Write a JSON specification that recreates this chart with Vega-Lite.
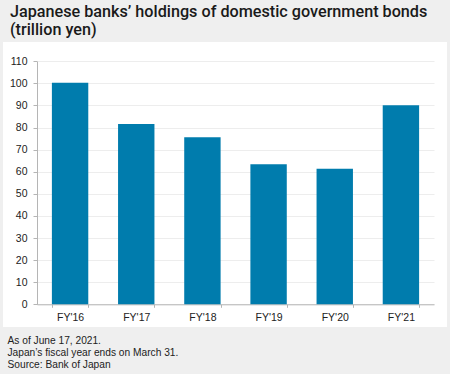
{
  "$schema": "https://vega.github.io/schema/vega-lite/v6.json",
  "width": 444,
  "height": 285,
  "autosize": {"type": "none"},
  "padding": {"left": 3, "top": 42, "right": 3, "bottom": 47},
  "background": "#efefef",
  "title": {
    "text": ["Japanese banks’ holdings of domestic government bonds", "(trillion yen)"],
    "anchor": "start",
    "frame": "group",
    "dx": 7,
    "offset": 4,
    "font": "Roboto",
    "fontSize": 16.2,
    "fontWeight": 500,
    "color": "#1a1a1a",
    "lineHeight": 18
  },
  "data": {
    "values": [
      {"year": "FY'16", "value": 100.3},
      {"year": "FY'17", "value": 81.6},
      {"year": "FY'18", "value": 75.6},
      {"year": "FY'19", "value": 63.4},
      {"year": "FY'20", "value": 61.4},
      {"year": "FY'21", "value": 90.1}
    ]
  },
  "mark": {"type": "bar", "color": "#007cad"},
  "encoding": {
    "x": {
      "field": "year",
      "type": "nominal",
      "sort": null,
      "scale": {"range": [34, 431], "paddingInner": 0.45, "paddingOuter": 0.225},
      "axis": {
        "orient": "bottom",
        "offset": -22.7,
        "tickBand": "extent",
        "tickSize": 3,
        "labelAngle": 0,
        "labelPadding": 5,
        "labelFont": "Liberation Sans",
        "labelFontSize": 10.5,
        "labelColor": "#222222",
        "domainColor": "#b5b5b5",
        "tickColor": "#b5b5b5",
        "title": ["As of June 17, 2021.", "Japan’s fiscal year ends on March 31.", "Source: Bank of Japan"],
        "titleX": 4,
        "titleY": 39.4,
        "titleAnchor": "start",
        "titleAlign": "left",
        "titleBaseline": "alphabetic",
        "titleFont": "Liberation Sans",
        "titleFontSize": 10.2,
        "titleFontWeight": "normal",
        "titleLineHeight": 11.7,
        "titleColor": "#222222"
      }
    },
    "y": {
      "field": "value",
      "type": "quantitative",
      "scale": {"domain": [0, 110], "range": [262.3, 19.3], "nice": false},
      "axis": {
        "values": [0, 10, 20, 30, 40, 50, 60, 70, 80, 90, 100, 110],
        "offset": -34,
        "grid": true,
        "gridColor": "#ededed",
        "domainColor": "#b5b5b5",
        "tickColor": "#b5b5b5",
        "tickSize": 4,
        "labelPadding": 6,
        "labelFont": "Liberation Sans",
        "labelFontSize": 10.5,
        "labelColor": "#222222",
        "title": null
      }
    }
  },
  "config": {"view": {"fill": "white", "stroke": null}}
}
